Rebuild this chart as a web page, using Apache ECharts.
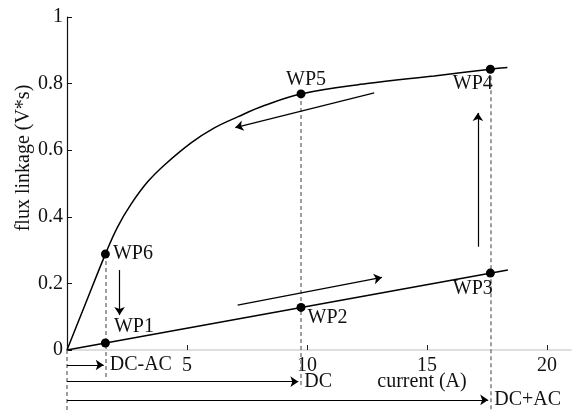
<!DOCTYPE html>
<html>
<head>
<meta charset="utf-8">
<script src="https://cdn.jsdelivr.net/npm/echarts@6/dist/echarts.min.js"></script>
<style>
  html, body { margin: 0; padding: 0; background: #fff; }
  #main { width: 572px; height: 412px; }
</style>
</head>
<body>
<div id="main"></div>
<script>
// saturation curve (upper)
const curveX = [0, 0.72, 1.6, 2.11, 2.67, 3.36, 4.05, 5.17, 6.14, 7.11, 8.22, 9.75, 12.5, 15.3, 17.64, 18.35];
const curveY = [0, 0.13, 0.288, 0.37, 0.438, 0.505, 0.555, 0.622, 0.667, 0.70, 0.734, 0.769, 0.80, 0.823, 0.843, 0.848];

// lower straight line
const lowX = [0, 18.37];
const lowY = [0, 0.24];

// working points
const wpNames = ['WP1', 'WP2', 'WP3', 'WP4', 'WP5', 'WP6'];
const wpX = [1.6, 9.75, 17.64, 17.64, 9.75, 1.6];
const wpY = [0.021, 0.128, 0.231, 0.843, 0.769, 0.288];

// dashed guides
const guideX = [0, 1.6, 9.75, 17.64];
const guideTop = [0, 0.288, 0.769, 0.843];
const guideBottom = [-0.19, -0.085, -0.115, -0.19];

// direction arrows inside the plot
const arrowFrom = [[2.19, 0.24], [7.11, 0.135], [17.12, 0.31], [12.8, 0.772]];
const arrowTo = [[2.19, 0.105], [13.12, 0.218], [17.12, 0.712], [7.01, 0.668]];

// current arrows under the axis
const currentNames = ['DC-AC', 'DC', 'DC+AC'];
const currentEnd = [1.53, 9.64, 17.55];
const currentLevel = [-0.045, -0.095, -0.15];

const xTicks = [5, 10, 15, 20];

const chart = echarts.init(document.getElementById('main'));

const wpLabel = {
  WP1: { position: 'right', distance: 4, offset: [0, -16] },
  WP2: { position: 'right', distance: 2, offset: [0, 10] },
  WP3: { position: 'left', distance: 0, offset: [7, 16] },
  WP4: { position: 'left', distance: 0, offset: [7, 14] },
  WP5: { position: 'top', distance: 0, offset: [5, 0] },
  WP6: { position: 'right', distance: 3, offset: [0, 0] },
};

const option = {
  animation: false,
  textStyle: { fontFamily: 'Liberation Serif', fontSize: 20, color: '#111' },
  grid: { left: 67, right: 1, top: 17, bottom: 62 },
  xAxis: {
    type: 'value',
    min: 0,
    max: 21,
    splitLine: { show: false },
    axisLine: { lineStyle: { color: '#d4d4d4', width: 1.5 } },
    axisTick: {
      inside: true,
      length: 5,
      customValues: xTicks,
      lineStyle: { color: '#222' },
    },
    axisLabel: {
      customValues: xTicks,
      margin: 6,
      fontFamily: 'Liberation Serif',
      fontSize: 20,
      color: '#111',
    },
  },
  yAxis: {
    type: 'value',
    min: 0,
    max: 1,
    interval: 0.2,
    splitLine: { show: false },
    axisLine: { show: true, lineStyle: { color: '#111', width: 1.2 } },
    axisTick: { inside: true, length: 5, lineStyle: { color: '#111' } },
    axisLabel: {
      margin: 4,
      fontFamily: 'Liberation Serif',
      fontSize: 20,
      color: '#111',
    },
  },
  graphic: [
    {
      type: 'text',
      x: 24,
      y: 158,
      rotation: Math.PI / 2,
      style: {
        text: 'flux linkage (V*s)',
        font: '20px "Liberation Serif"',
        fill: '#111',
        textAlign: 'center',
        textVerticalAlign: 'middle',
      },
    },
    {
      type: 'text',
      x: 422,
      y: 382,
      style: {
        text: 'current (A)',
        font: '20px "Liberation Serif"',
        fill: '#111',
        textAlign: 'center',
        textVerticalAlign: 'middle',
      },
    },
  ],
  series: [
    {
      type: 'lines',
      coordinateSystem: 'cartesian2d',
      clip: false,
      silent: true,
      lineStyle: { color: '#808080', width: 1.5, type: [4, 3], opacity: 1 },
      data: guideX.map((x, i) => ({ coords: [[x, guideTop[i]], [x, guideBottom[i]]] })),
    },
    {
      type: 'line',
      showSymbol: false,
      smooth: 0.4,
      lineStyle: { color: '#000', width: 1.5 },
      data: curveX.map((x, i) => [x, curveY[i]]),
    },
    {
      type: 'line',
      showSymbol: false,
      lineStyle: { color: '#000', width: 1.5 },
      data: lowX.map((x, i) => [x, lowY[i]]),
    },
    {
      type: 'lines',
      coordinateSystem: 'cartesian2d',
      clip: false,
      symbol: ['none', 'arrow'],
      symbolSize: 8,
      lineStyle: { color: '#000', width: 1.2, opacity: 1 },
      data: arrowFrom.map((p, i) => ({ coords: [p, arrowTo[i]] })),
    },
    {
      type: 'lines',
      coordinateSystem: 'cartesian2d',
      clip: false,
      symbol: ['none', 'arrow'],
      symbolSize: 8,
      lineStyle: { color: '#000', width: 1.2, opacity: 1 },
      label: {
        show: true,
        position: 'end',
        distance: 6,
        formatter: (p) => p.name,
        fontFamily: 'Liberation Serif',
        fontSize: 20,
        color: '#111',
      },
      data: currentNames.map((n, i) => ({
        name: n,
        coords: [[0, currentLevel[i]], [currentEnd[i], currentLevel[i]]],
      })),
    },
    {
      type: 'scatter',
      symbolSize: 9,
      itemStyle: { color: '#000', opacity: 1 },
      label: {
        show: true,
        formatter: (p) => p.name,
        fontFamily: 'Liberation Serif',
        fontSize: 20,
        color: '#111',
      },
      data: wpNames.map((n, i) => ({
        name: n,
        value: [wpX[i], wpY[i]],
        label: wpLabel[n],
      })),
    },
  ],
};

option && chart.setOption(option);
</script>
</body>
</html>
